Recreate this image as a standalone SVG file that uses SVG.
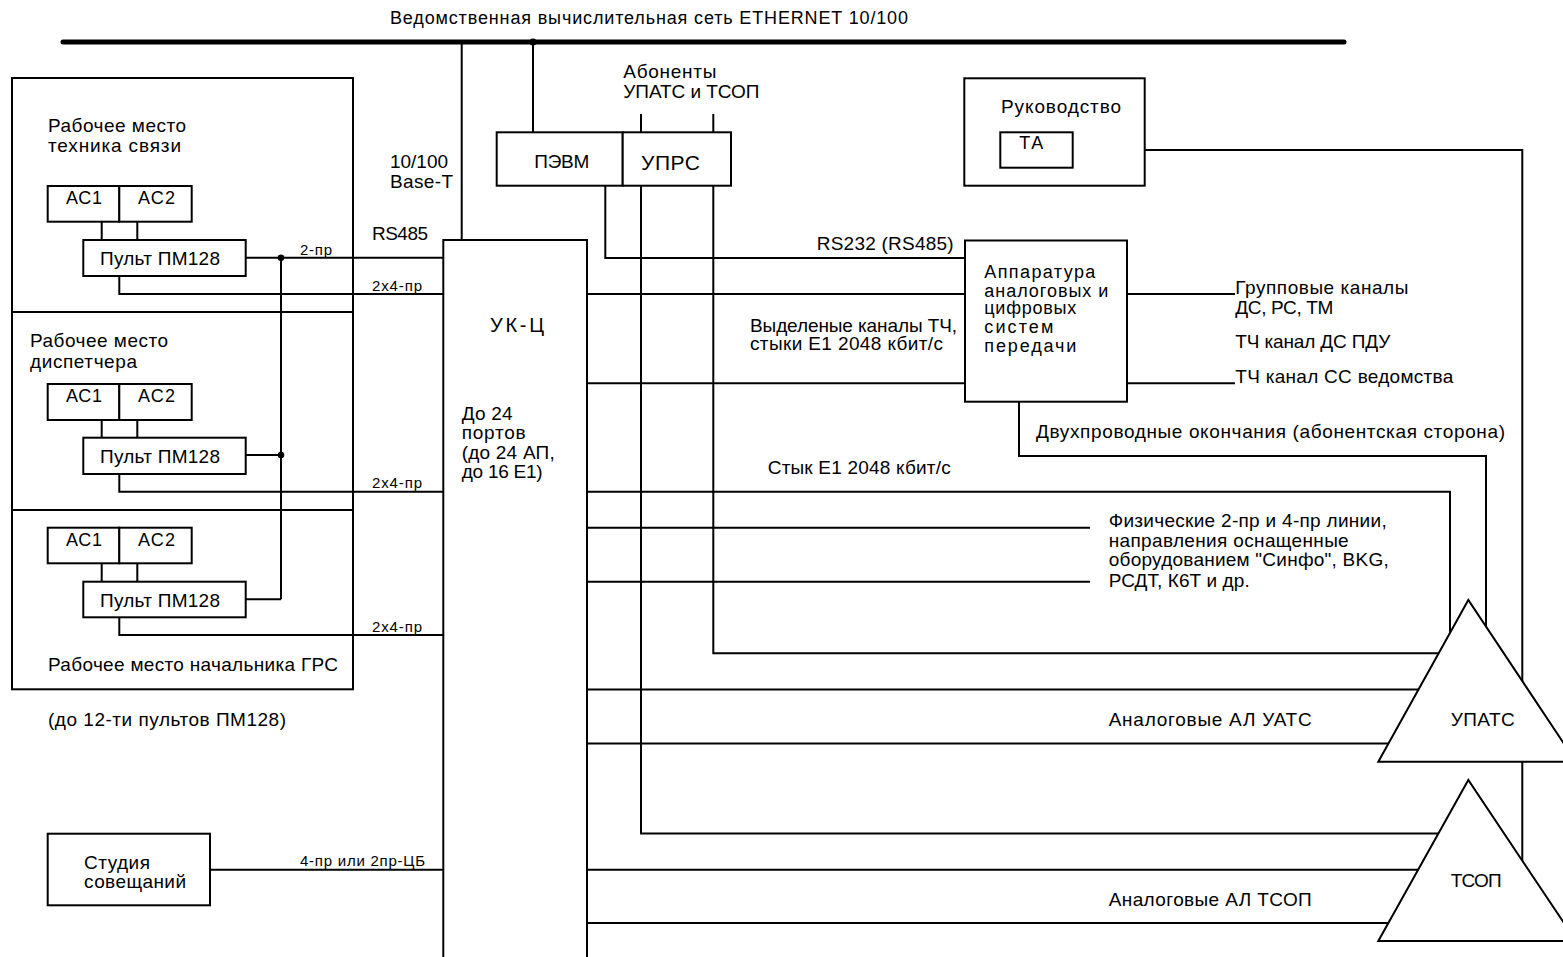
<svg xmlns="http://www.w3.org/2000/svg" width="1563" height="957" viewBox="0 0 1563 957">
<style>
.t{font-family:"Liberation Sans",Arial,sans-serif;font-size:19px;fill:#000}
.m{font-family:"Liberation Sans",Arial,sans-serif;font-size:18px;fill:#000}
.s{font-family:"Liberation Sans",Arial,sans-serif;font-size:15px;fill:#000}
.b{fill:#fff;stroke:#000;stroke-width:2}
.o{fill:none;stroke:#000;stroke-width:2}
.l{fill:none;stroke:#000;stroke-width:2}
.d{fill:#000}
</style>
<rect x="0" y="0" width="1563" height="957" fill="#fff"/>
<text class="m" x="390" y="24" textLength="518">Ведомственная вычислительная сеть ETHERNET 10/100</text>

<g id="wp1">
<rect class="o" x="12" y="78" width="341" height="234"/>
<text class="t" x="48" y="132" textLength="138">Рабочее место</text>
<text class="t" x="48" y="152" textLength="133">техника связи</text>
</g>
<g id="wp2">
<rect class="o" x="12" y="312" width="341" height="198"/>
<text class="t" x="30" y="346.7" textLength="138">Рабочее место</text>
<text class="t" x="30" y="367.7" textLength="107">диспетчера</text>
</g>
<g id="wp3">
<rect class="o" x="12" y="510" width="341" height="179.3"/>
<text class="t" x="48" y="671.3" textLength="290">Рабочее место начальника ГРС</text>
</g>
<text class="t" x="48" y="726.3" textLength="238">(до 12-ти пультов ПМ128)</text>

<g id="connectors">
<line x1="63" y1="42" x2="1344" y2="42" stroke="#000" stroke-width="5" stroke-linecap="round"/>
<circle class="d" cx="533" cy="42" r="3.5"/>
<path class="l" d="M461.7 42V240"/>
<path class="l" d="M533 42V132.3"/>
<path class="l" d="M641 114V132.3M713.3 114V132.3"/>
<path class="l" d="M605.3 185.7V258H965"/>
<path class="l" d="M587 294H965"/>
<path class="l" d="M587 383.3H965"/>
<path class="l" d="M1127 294H1235M1127 383.3H1235"/>
<path class="l" d="M1019 401.7V456H1486V720"/>
<path class="l" d="M587 491.7H1450V720"/>
<path class="l" d="M587 527.7H1090M587 581.7H1090"/>
<path class="l" d="M713.3 185.7V653.3H1460"/>
<path class="l" d="M587 689.5H1460M587 743.5H1460"/>
<path class="l" d="M641 185.7V833.5H1460"/>
<path class="l" d="M587 869.7H1460M587 923H1460"/>
<path class="l" d="M1072.7 150H1522.3V900"/>
<path class="l" d="M245.7 257.7H443.3"/>
<path class="l" d="M281 257.7V599.3"/>
<circle class="d" cx="281" cy="257.7" r="3.3"/>
<circle class="d" cx="281" cy="455" r="3.3"/>
<path class="l" d="M245.7 455H281M245.7 599.3H281"/>
<path class="l" d="M119.3 276V294H443.3"/>
<path class="l" d="M119.3 474V491.7H443.3"/>
<path class="l" d="M119.3 617.3V635H443.3"/>
<path class="l" d="M210 869.7H443.3"/>
<path class="l" d="M101.7 222V240M137.3 222V240"/>
<path class="l" d="M101.7 420V437.7M137.3 420V437.7"/>
<path class="l" d="M101.7 563.3V581.7M137.3 563.3V581.7"/>
<text class="s" x="300" y="255" textLength="32">2-пр</text>
<text class="s" x="372" y="290.7" textLength="50">2х4-пр</text>
<text class="s" x="372" y="488.3" textLength="50">2х4-пр</text>
<text class="s" x="372" y="631.7" textLength="50">2х4-пр</text>
<text class="t" x="372" y="240" textLength="56">RS485</text>
<text class="t" x="390" y="168" textLength="58">10/100</text>
<text class="t" x="390" y="187.7" textLength="63">Base-T</text>
<text class="s" x="300" y="866.3" textLength="125">4-пр или 2пр-ЦБ</text>
<text class="t" x="623.3" y="77.7" textLength="93">Абоненты</text>
<text class="t" x="623.3" y="98.3" textLength="136">УПАТС и ТСОП</text>
<text class="t" x="816.7" y="250" textLength="137">RS232 (RS485)</text>
<text class="t" x="750" y="331.7" textLength="207">Выделеные каналы ТЧ,</text>
<text class="t" x="750" y="350" textLength="193">стыки Е1 2048 кбит/с</text>
<text class="t" x="1235.3" y="294" textLength="173">Групповые каналы</text>
<text class="t" x="1235.3" y="314" textLength="98">ДС, РС, ТМ</text>
<text class="t" x="1235.3" y="348.3" textLength="155">ТЧ канал ДС ПДУ</text>
<text class="t" x="1235.3" y="383.3" textLength="218">ТЧ канал СС ведомства</text>
<text class="t" x="1036" y="438.3" textLength="469">Двухпроводные окончания (абонентская сторона)</text>
<text class="t" x="767.7" y="474" textLength="183">Стык Е1 2048 кбит/с</text>
<text class="t" x="1108.7" y="527.3" textLength="278">Физические 2-пр и 4-пр линии,</text>
<text class="t" x="1108.7" y="546.7" textLength="240">направления оснащенные</text>
<text class="t" x="1108.7" y="565.7" textLength="280">оборудованием "Синфо", BKG,</text>
<text class="t" x="1108.7" y="586.7" textLength="141">РСДТ, К6Т и др.</text>
<text class="t" x="1108.7" y="726.3" textLength="203">Аналоговые АЛ УАТС</text>
<text class="t" x="1108.7" y="906.3" textLength="203">Аналоговые АЛ ТСОП</text>
</g>

<g id="ac1a"><rect class="b" x="47.7" y="186" width="71.6" height="35.7"/><text class="m" x="66" y="204" textLength="36">АС1</text></g>
<g id="ac2a"><rect class="b" x="119.3" y="186" width="72.4" height="35.7"/><text class="m" x="138" y="204" textLength="37">АС2</text></g>
<g id="pult1"><rect class="b" x="83.3" y="240" width="162.4" height="36"/><text class="t" x="100" y="265" textLength="120">Пульт ПМ128</text></g>

<g id="ac1b"><rect class="b" x="47.7" y="384" width="71.6" height="36"/><text class="m" x="66" y="401.7" textLength="36">АС1</text></g>
<g id="ac2b"><rect class="b" x="119.3" y="384" width="72.4" height="36"/><text class="m" x="138" y="401.7" textLength="37">АС2</text></g>
<g id="pult2"><rect class="b" x="83.3" y="437.7" width="162.4" height="36.3"/><text class="t" x="100" y="462.7" textLength="120">Пульт ПМ128</text></g>

<g id="ac1c"><rect class="b" x="47.7" y="527.7" width="71.6" height="35.6"/><text class="m" x="66" y="545.7" textLength="36">АС1</text></g>
<g id="ac2c"><rect class="b" x="119.3" y="527.7" width="72.4" height="35.6"/><text class="m" x="138" y="545.7" textLength="37">АС2</text></g>
<g id="pult3"><rect class="b" x="83.3" y="581.7" width="162.4" height="35.6"/><text class="t" x="100" y="606.7" textLength="120">Пульт ПМ128</text></g>

<g id="studio"><rect class="b" x="47.7" y="833.7" width="162.3" height="71.6"/>
<text class="t" x="84" y="869.3" textLength="66">Студия</text>
<text class="t" x="84" y="887.7" textLength="102">совещаний</text></g>

<g id="ukc">
<path class="l" d="M443.3 960V240H587V960"/>
<text class="t" x="490" y="332.3" textLength="54" style="font-size:20px">УК-Ц</text>
<text class="t" x="461.7" y="420" textLength="51">До 24</text>
<text class="t" x="461.7" y="439" textLength="64">портов</text>
<text class="t" x="461.7" y="458.5" textLength="93">(до 24 АП,</text>
<text class="t" x="461.7" y="478" textLength="81">до 16 Е1)</text>
</g>

<g id="pevm"><rect class="b" x="496.7" y="132.3" width="126" height="53.4"/><text class="t" x="534.3" y="168.3" textLength="55">ПЭВМ</text></g>
<g id="uprs"><rect class="b" x="622.7" y="132.3" width="108.3" height="53.4"/><text class="t" x="641" y="170" textLength="59" style="font-size:21px">УПРС</text></g>

<g id="rukovodstvo"><rect class="b" x="964.3" y="78.3" width="180.4" height="107.4"/>
<text class="t" x="1001" y="113.3" textLength="120">Руководство</text></g>
<g id="ta"><rect class="b" x="1000.3" y="132.3" width="72.4" height="35.4"/><text class="m" x="1019.3" y="149" textLength="24">ТА</text></g>

<g id="apparatus"><rect class="b" x="965" y="240.5" width="162" height="161.2"/>
<text class="m" x="984.3" y="278.3" textLength="111">Аппаратура</text>
<text class="m" x="984.3" y="296.7" textLength="124">аналоговых и</text>
<text class="m" x="984.3" y="314.3" textLength="92">цифровых</text>
<text class="m" x="984.3" y="333.3" textLength="69">систем</text>
<text class="m" x="984.3" y="351.7" textLength="92">передачи</text></g>

<g id="upats"><polygon class="b" points="1468.3,600 1378.3,761.7 1576,761.7"/>
<text class="t" x="1450.7" y="725.7" textLength="64">УПАТС</text></g>
<g id="tsop"><polygon class="b" points="1468.3,780 1378.3,941 1576,941"/>
<text class="t" x="1450.7" y="886.7" textLength="51">ТСОП</text></g>
</svg>
